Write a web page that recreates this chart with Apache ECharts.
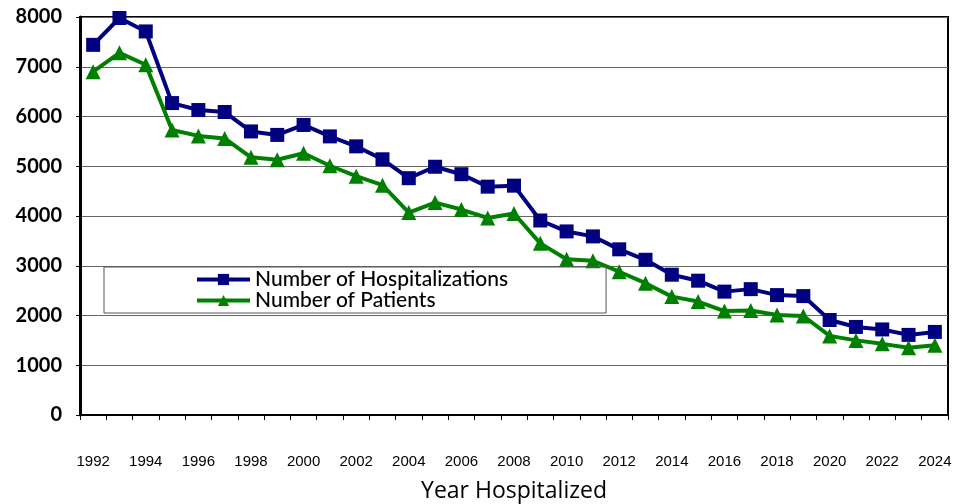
<!DOCTYPE html>
<html>
<head>
<meta charset="utf-8">
<script src="https://cdn.jsdelivr.net/npm/echarts@6/dist/echarts.min.js"></script>
<style>html,body{margin:0;padding:0;background:#fff;}#c{width:959px;height:504px;}</style>
</head>
<body>
<div id="c"></div>
<script>
const years = ['1992','1993','1994','1995','1996','1997','1998','1999','2000','2001','2002','2003','2004','2005','2006','2007','2008','2009','2010','2011','2012','2013','2014','2015','2016','2017','2018','2019','2020','2021','2022','2023','2024'];
const hospitalizations = [7440,7980,7710,6270,6130,6090,5700,5630,5830,5600,5400,5140,4760,4990,4840,4590,4610,3910,3690,3590,3330,3120,2820,2700,2480,2530,2410,2390,1910,1770,1720,1610,1670];
const patients = [6900,7280,7040,5730,5610,5560,5180,5130,5260,5010,4800,4620,4070,4270,4130,3960,4050,3450,3130,3100,2880,2650,2380,2280,2090,2100,2010,1990,1590,1500,1430,1350,1400];
const yTicks = [0,1000,2000,3000,4000,5000,6000,7000,8000];

const chart = echarts.init(document.getElementById('c'));
chart.setOption({
  animation: false,
  grid: {left: 80, right: 11, top: 17, bottom: 89, show: true, borderColor: '#000', borderWidth: 2,
         containLabel: false, outerBoundsMode: 'none'},
  legend: {
    left: 104, top: 267, orient: 'vertical',
    padding: [2, 98, 2, 91], itemGap: 0,
    borderColor: '#555', borderWidth: 1,
    itemWidth: 53, itemHeight: 14,
    lineStyle: {width: 4},
    textStyle: {fontFamily: 'Lato', fontSize: 21, fontWeight: 500, color: '#000'},
    data: ['Number of Hospitalizations', 'Number of Patients']
  },
  xAxis: {
    type: 'category', data: years, boundaryGap: true,
    name: 'Year Hospitalized', nameLocation: 'middle', nameGap: 65,
    nameTextStyle: {fontFamily: 'Open Sans', fontSize: 23, color: '#000'},
    axisLine: {lineStyle: {color: '#000', width: 2}},
    axisTick: {show: true, interval: 0, length: 5, lineStyle: {color: '#000'}},
    axisLabel: {interval: 1, margin: 39, fontFamily: 'Liberation Sans', fontSize: 15, color: '#000'}
  },
  yAxis: {
    type: 'value', min: yTicks[0], max: yTicks[yTicks.length-1], interval: 1000,
    axisLine: {show: true, lineStyle: {color: '#000', width: 3}},
    axisTick: {show: true, length: 4, lineStyle: {color: '#000'}},
    splitLine: {lineStyle: {color: '#666', width: 1}},
    axisLabel: {margin: 18, fontFamily: 'Lato', fontWeight: 'bold', fontSize: 20, color: '#000',
                formatter: function (v) { return String(v); }}
  },
  series: [
    {name: 'Number of Hospitalizations', type: 'line', data: hospitalizations,
     symbol: 'rect', symbolSize: 14, showAllSymbol: true,
     lineStyle: {color: '#000080', width: 4}, itemStyle: {color: '#000080'}},
    {name: 'Number of Patients', type: 'line', data: patients,
     symbol: 'triangle', symbolSize: 15, showAllSymbol: true,
     lineStyle: {color: '#008000', width: 4}, itemStyle: {color: '#008000'}}
  ]
});
</script>
</body>
</html>
